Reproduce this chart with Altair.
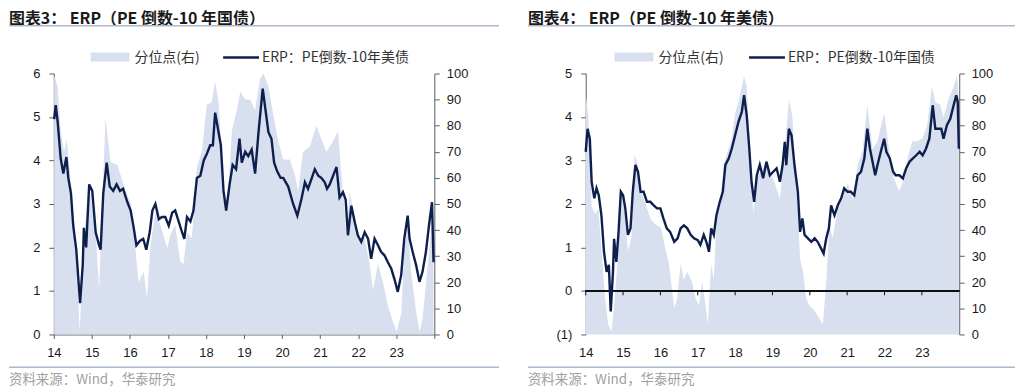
import altair as alt
import pandas as pd

# ---------------- data ----------------
years = [2014, 2015, 2016, 2017, 2018, 2019, 2020, 2021, 2022, 2023, 2024]

# Panel 1: ERP (PE reciprocal - 10Y), left axis
l_line_t = [2014.01, 2014.05, 2014.10, 2014.18, 2014.25, 2014.33, 2014.38, 2014.45, 2014.51, 2014.59,
            2014.69, 2014.76, 2014.79, 2014.85, 2014.93, 2015.01, 2015.10, 2015.19, 2015.23, 2015.30,
            2015.39, 2015.47, 2015.56, 2015.65, 2015.74, 2015.82, 2015.93, 2016.02, 2016.10, 2016.17,
            2016.26, 2016.35, 2016.43, 2016.52, 2016.59, 2016.67, 2016.76, 2016.84, 2016.93, 2017.02,
            2017.11, 2017.19, 2017.28, 2017.37, 2017.43, 2017.50, 2017.59, 2017.67, 2017.76, 2017.85,
            2017.94, 2018.02, 2018.11, 2018.18, 2018.24, 2018.33, 2018.39, 2018.46, 2018.53, 2018.62,
            2018.70, 2018.79, 2018.88, 2018.94, 2019.03, 2019.11, 2019.20, 2019.29, 2019.38, 2019.49,
            2019.55, 2019.64, 2019.72, 2019.79, 2019.87, 2019.96, 2020.03, 2020.16, 2020.29, 2020.40,
            2020.51, 2020.60, 2020.68, 2020.77, 2020.86, 2020.95, 2021.03, 2021.12, 2021.18, 2021.25,
            2021.34, 2021.43, 2021.51, 2021.60, 2021.67, 2021.73, 2021.82, 2021.91, 2021.99, 2022.08,
            2022.17, 2022.26, 2022.34, 2022.43, 2022.52, 2022.60, 2022.69, 2022.78, 2022.87, 2022.95,
            2023.04, 2023.13, 2023.21, 2023.30, 2023.35, 2023.43, 2023.52, 2023.61, 2023.69, 2023.78,
            2023.87, 2023.94, 2023.98]
l_line_v = [4.95, 5.27, 4.90, 4.05, 3.70, 4.08, 3.60, 3.25, 2.50, 1.95,
            0.72, 1.60, 2.45, 2.00, 3.45, 3.30, 2.35, 2.05, 1.95, 3.25,
            3.95, 3.40, 3.30, 3.45, 3.30, 3.35, 3.05, 2.85, 2.45, 2.05,
            2.15, 2.20, 1.95, 2.35, 2.85, 3.00, 2.65, 2.70, 2.70, 2.50,
            2.80, 2.85, 2.60, 2.35, 2.20, 2.70, 2.60, 2.85, 3.60, 3.65,
            4.00, 4.15, 4.35, 4.35, 5.10, 4.65, 4.35, 3.30, 2.85, 3.45,
            3.90, 3.80, 4.50, 3.95, 4.20, 4.10, 4.25, 3.70, 4.65, 5.65,
            5.25, 4.65, 4.50, 3.95, 3.75, 3.60, 3.60, 3.40, 3.00, 2.73,
            3.12, 3.50, 3.35, 3.57, 3.80, 3.65, 3.60, 3.50, 3.35, 3.45,
            3.65, 3.85, 3.15, 3.27, 3.10, 2.28, 2.96, 2.58, 2.28, 2.13,
            2.35, 2.20, 1.74, 2.20, 2.05, 1.90, 1.82, 1.66, 1.51, 1.28,
            0.98, 1.37, 2.20, 2.73, 2.20, 1.90, 1.60, 1.21, 1.44, 1.90,
            2.58, 3.04, 1.66]

# Panel 1: percentile (right axis)
l_pct_t = [2014.01, 2014.10, 2014.18, 2014.27, 2014.34, 2014.45, 2014.58, 2014.68, 2014.79, 2014.92,
           2015.10, 2015.19, 2015.27, 2015.36, 2015.49, 2015.67, 2015.84, 2016.02, 2016.15, 2016.23,
           2016.36, 2016.45, 2016.54, 2016.67, 2016.80, 2016.98, 2017.06, 2017.19, 2017.32, 2017.41,
           2017.50, 2017.63, 2017.76, 2017.89, 2018.02, 2018.15, 2018.24, 2018.33, 2018.46, 2018.55,
           2018.68, 2018.81, 2018.90, 2019.03, 2019.16, 2019.29, 2019.42, 2019.51, 2019.64, 2019.77,
           2019.90, 2020.03, 2020.20, 2020.34, 2020.42, 2020.55, 2020.73, 2020.90, 2021.03, 2021.16,
           2021.34, 2021.47, 2021.56, 2021.69, 2021.78, 2021.91, 2022.04, 2022.17, 2022.30, 2022.39,
           2022.52, 2022.65, 2022.78, 2022.91, 2023.01, 2023.13, 2023.21, 2023.30, 2023.39, 2023.52,
           2023.61, 2023.69, 2023.83, 2023.94, 2023.98]
l_pct_v = [99, 95, 78, 70, 75, 58, 35, 1, 37, 58,
           39, 17, 50, 83, 66, 65, 57, 50, 32, 20,
           24, 14, 34, 47, 42, 33, 38, 42, 28, 27,
           39, 37, 64, 70, 88, 89, 97, 89, 58, 47,
           78, 86, 93, 90, 90, 86, 98, 100, 95, 84,
           74, 67, 67, 61, 55, 70, 72, 80, 75, 70,
           74, 78, 61, 39, 55, 43, 37, 37, 27, 17,
           27, 20, 11, 5, 1, 8, 33, 42, 24, 9,
           1, 6, 27, 43, 24]

# Panel 2: ERP (PE reciprocal - 10Y UST), left axis
r_line_t = [2014.00, 2014.05, 2014.11, 2014.16, 2014.23, 2014.29, 2014.35, 2014.42, 2014.49, 2014.56,
            2014.62, 2014.67, 2014.73, 2014.76, 2014.82, 2014.88, 2014.94, 2015.00, 2015.06, 2015.13,
            2015.20, 2015.26, 2015.33, 2015.40, 2015.47, 2015.55, 2015.64, 2015.73, 2015.82, 2015.91,
            2016.00, 2016.08, 2016.17, 2016.26, 2016.37, 2016.46, 2016.54, 2016.63, 2016.72, 2016.81,
            2016.90, 2017.00, 2017.07, 2017.16, 2017.23, 2017.30, 2017.36, 2017.43, 2017.50, 2017.59,
            2017.67, 2017.74, 2017.83, 2017.91, 2018.00, 2018.09, 2018.18, 2018.24, 2018.31, 2018.38,
            2018.44, 2018.51, 2018.58, 2018.66, 2018.75, 2018.84, 2018.93, 2019.02, 2019.11, 2019.20,
            2019.27, 2019.33, 2019.37, 2019.44, 2019.51, 2019.59, 2019.68, 2019.74, 2019.80, 2019.86,
            2019.95, 2020.04, 2020.13, 2020.21, 2020.30, 2020.37, 2020.44, 2020.51, 2020.57, 2020.66,
            2020.75, 2020.84, 2020.92, 2021.01, 2021.10, 2021.19, 2021.28, 2021.37, 2021.46, 2021.54,
            2021.61, 2021.68, 2021.75, 2021.81, 2021.90, 2021.99, 2022.05, 2022.14, 2022.23, 2022.30,
            2022.40, 2022.49, 2022.58, 2022.67, 2022.76, 2022.85, 2022.94, 2023.02, 2023.11, 2023.20,
            2023.29, 2023.36, 2023.45, 2023.52, 2023.58, 2023.67, 2023.76, 2023.85, 2023.92, 2023.96,
            2023.99]
r_line_v = [3.20, 3.73, 3.50, 2.50, 2.13, 2.36, 2.20, 1.74, 0.90, 0.44,
            0.60, -0.47, 0.44, 1.20, 0.67, 1.36, 2.28, 2.20, 1.90, 1.29,
            1.44, 2.28, 2.90, 2.74, 2.28, 2.28, 2.05, 2.05, 1.97, 1.90,
            1.90, 1.67, 1.44, 1.36, 1.13, 1.21, 1.44, 1.51, 1.44, 1.29,
            1.21, 1.17, 1.06, 1.29, 1.13, 0.90, 1.44, 1.29, 1.74, 2.05,
            2.28, 2.90, 3.05, 3.27, 3.58, 3.89, 4.12, 4.50, 4.04, 3.27,
            2.50, 2.05, 2.66, 2.90, 2.59, 2.97, 2.66, 2.74, 2.82, 2.51,
            2.89, 3.43, 2.89, 3.73, 3.58, 2.89, 2.28, 1.36, 1.67, 1.29,
            1.21, 1.13, 1.21, 1.13, 0.98, 0.86, 1.21, 1.44, 1.97, 1.74,
            1.97, 2.13, 2.36, 2.28, 2.28, 2.20, 2.66, 2.74, 3.05, 3.73,
            3.27, 2.97, 2.66, 2.89, 3.20, 3.50, 3.20, 3.05, 2.74, 2.66,
            2.66, 2.59, 2.82, 2.97, 3.05, 3.12, 3.20, 3.12, 3.27, 3.50,
            4.27, 3.73, 3.73, 3.73, 3.50, 3.81, 3.96, 4.27, 4.50, 4.35,
            3.27]

# Panel 2: percentile (right axis)
r_pct_t = [2014.00, 2014.07, 2014.16, 2014.25, 2014.34, 2014.42, 2014.51, 2014.60, 2014.69, 2014.78,
           2014.87, 2014.94, 2015.04, 2015.13, 2015.22, 2015.31, 2015.40, 2015.48, 2015.62, 2015.75,
           2015.88, 2016.01, 2016.15, 2016.23, 2016.37, 2016.45, 2016.54, 2016.63, 2016.72, 2016.85,
           2016.94, 2017.03, 2017.12, 2017.21, 2017.27, 2017.36, 2017.43, 2017.51, 2017.60, 2017.69,
           2017.82, 2017.91, 2018.00, 2018.09, 2018.18, 2018.24, 2018.31, 2018.40, 2018.49, 2018.57,
           2018.71, 2018.84, 2018.97, 2019.06, 2019.20, 2019.33, 2019.44, 2019.53, 2019.64, 2019.74,
           2019.82, 2019.90, 2019.99, 2020.13, 2020.26, 2020.35, 2020.44, 2020.52, 2020.61, 2020.75,
           2020.88, 2021.01, 2021.15, 2021.28, 2021.41, 2021.54, 2021.68, 2021.81, 2021.99, 2022.12,
           2022.25, 2022.39, 2022.48, 2022.61, 2022.74, 2022.87, 2023.01, 2023.14, 2023.27, 2023.36,
           2023.49, 2023.58, 2023.71, 2023.85, 2023.94, 2023.99]
r_pct_v = [92, 84, 49, 46, 48, 33, 15, 4, 1, 14,
           32, 55, 47, 32, 37, 69, 65, 55, 49, 44,
           42, 41, 32, 27, 10, 14, 27, 21, 24, 20,
           14, 11, 20, 11, 4, 27, 21, 46, 49, 65,
           71, 75, 85, 89, 95, 99, 95, 71, 46, 61,
           62, 67, 61, 58, 52, 71, 90, 84, 58, 29,
           24, 14, 11, 9, 6, 4, 20, 42, 37, 48,
           52, 58, 52, 65, 70, 88, 71, 74, 85, 71,
           60, 55, 58, 67, 74, 74, 75, 80, 95, 89,
           88, 83, 90, 95, 99, 90]

titles = ["图表3：  ERP（PE 倒数-10 年国债）", "图表4：  ERP（PE 倒数-10 年美债）"]
legend_area_text = "分位点(右)"
legend_line_texts = ["ERP：PE倒数-10年美债", "ERP：PE倒数-10年国债"]
source_text = "资料来源：Wind，华泰研究"

# ---------------- style ----------------
NAVY = "#0e1f4e"
AREA = "#d8dfee"
AXC = "#5e5e5e"
SEP = "#a9b8cb"
CJK = "Noto Sans CJK SC"
NUM = "Liberation Sans"
H = 262


def one(v):
    return pd.DataFrame({"s": [v]})


def text_mark(s, x, y, size, color, weight="normal"):
    return alt.Chart(one(s)).mark_text(
        align="left", baseline="middle", font=CJK, fontSize=size,
        fontWeight=weight, color=color
    ).encode(x=alt.value(x), y=alt.value(y), text="s:N")


def hrule(x1, x2, y, color, width):
    return alt.Chart(one(0)).mark_rule(color=color, strokeWidth=width).encode(
        x=alt.value(x1), x2=alt.value(x2), y=alt.value(y)
    )


def panel(idx, line_t, line_v, pct_t, pct_v, ymin, ymax, W, left_off, right_end, lg):
    zero_axis = ymin < 0
    line_df = pd.DataFrame({"t": line_t, "v": line_v})
    pct_df = pd.DataFrame({"t": pct_t, "p": pct_v})

    xs = alt.Scale(domain=[2014, 2024], nice=False, zero=False)
    xaxis = alt.Axis(
        values=years,
        labelExpr="datum.value < 2024 ? substring(toString(datum.value), 2) : ''",
        title=None, grid=False, labelFont=NUM, labelFontSize=13, labelColor="#1a1a1a",
        domain=not zero_axis, ticks=not zero_axis, domainColor=AXC, tickColor=AXC,
        tickSize=4, labelPadding=12 if zero_axis else 8, labelFlush=False, labelOverlap=False,
    )
    yaxis = alt.Axis(
        orient="left", values=list(range(int(ymin), int(ymax) + 1)),
        labelExpr="datum.value < 0 ? '(' + (-datum.value) + ')' : '' + datum.value",
        title=None, grid=False, labelFont=NUM, labelFontSize=13, labelColor="#1a1a1a",
        domainColor=AXC, tickColor=AXC, tickSize=5, labelPadding=9,
    )
    paxis = alt.Axis(
        orient="right", values=list(range(0, 101, 10)), title=None, grid=False,
        labelFont=NUM, labelFontSize=13, labelColor="#1a1a1a",
        domainColor=AXC, tickColor=AXC, tickSize=5, labelPadding=7,
    )
    ys = alt.Scale(domain=[ymin, ymax], nice=False, zero=False)

    area = alt.Chart(pct_df).mark_area(color=AREA).encode(
        x=alt.X("t:Q", scale=xs, axis=xaxis),
        y=alt.Y("p:Q", scale=alt.Scale(domain=[0, 100], nice=False), axis=paxis),
    )
    line = alt.Chart(line_df).mark_line(color=NAVY, strokeWidth=2.4).encode(
        x=alt.X("t:Q", scale=xs, axis=xaxis),
        y=alt.Y("v:Q", scale=ys, axis=yaxis),
    )
    inner_layers = []
    if zero_axis:
        zdf = pd.DataFrame({"t": years[:-1], "z": [0] * (len(years) - 1), "z2": [-0.1] * (len(years) - 1)})
        zero = alt.Chart(zdf).mark_rule(color="#111111", strokeWidth=1).encode(
            y=alt.Y("z:Q", scale=ys, axis=yaxis)
        )
        zticks = alt.Chart(zdf).mark_rule(color="#111111", strokeWidth=1).encode(
            x=alt.X("t:Q", scale=xs, axis=xaxis),
            y=alt.Y("z:Q", scale=ys, axis=yaxis), y2="z2:Q",
        )
        inner_layers += [zero, zticks]
    inner = alt.layer(*inner_layers, line)

    decos = [
        text_mark(titles[idx], left_off, -55, 16, "#1a1a1a", "bold"),
        hrule(left_off, right_end, -48, SEP, 1.5),
        alt.Chart(one(0)).mark_rect(color=AREA).encode(
            x=alt.value(lg[0]), x2=alt.value(lg[0] + 39), y=alt.value(-21), y2=alt.value(-12)
        ),
        text_mark(legend_area_text, lg[0] + 44, -16, 14, "#333333"),
        hrule(lg[1], lg[1] + 36, -16, NAVY, 2.4),
        text_mark(legend_line_texts[idx], lg[1] + 39, -16, 14, "#333333"),
        hrule(left_off, right_end, H + 33, SEP, 1.5),
        text_mark(source_text, left_off, H + 46, 13.5, "#a0a0a0"),
    ]
    return alt.layer(area, inner, *decos).resolve_scale(y="independent").properties(
        width=W, height=H
    )


left = panel(0, l_line_t, l_line_v, l_pct_t, l_pct_v, 0, 6, 382, -45, 447, (37, 170))
right = panel(1, r_line_t, r_line_v, r_pct_t, r_pct_v, -1, 5, 375, -58, 431, (29, 164))

chart = alt.hconcat(left, right, spacing=27).properties(
    padding={"top": 2, "left": 0, "right": 0, "bottom": 0}
).configure_view(stroke=None).configure_axis(grid=False)

chart.save("out.html", embed_options={"renderer": "svg", "actions": False})
